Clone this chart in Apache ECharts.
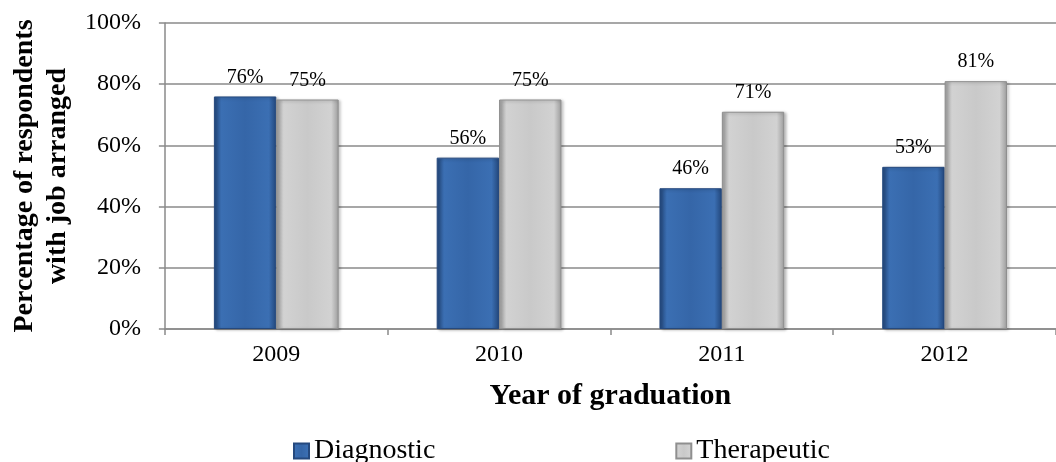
<!DOCTYPE html>
<html>
<head>
<meta charset="utf-8">
<script src="https://cdn.jsdelivr.net/npm/echarts@6/dist/echarts.min.js"></script>
<style>
  html, body { margin: 0; padding: 0; background: #fff; overflow: hidden; }
  #chart { width: 1056px; height: 462px; }
</style>
</head>
<body>
<div id="chart"></div>
<script>
const years = ['2009', '2010', '2011', '2012']
const diagnostic = [76, 56, 46, 53]
const therapeutic = [75, 75, 71, 81]
const yTicks = [0, 20, 40, 60, 80, 100]

const font = '"Liberation Serif", "Times New Roman", serif'

// fake the excel bevel with a side-to-side gradient
const bevel = (edge, mid, dark) => ({
  type: 'linear', x: 0, y: 0, x2: 1, y2: 0,
  colorStops: [
    { offset: 0, color: dark },
    { offset: 0.12, color: edge },
    { offset: 0.5, color: mid },
    { offset: 0.88, color: edge },
    { offset: 1, color: dark },
  ]
})

const valueLabel = {
  show: true, position: 'top', distance: 9,
  fontFamily: font, fontSize: 20, color: '#000',
  formatter: (p) => p.value + '%',
}

const chart = echarts.init(document.getElementById('chart'))
chart.setOption({
  animation: false,
  textStyle: { fontFamily: font },
  // plot runs a little past the right edge in the original crop
  grid: { left: 159, right: -7, top: 23, bottom: 133 },
  legend: {
    top: 432,
    left: 288,
    itemGap: 240,
    itemWidth: 15,
    itemHeight: 15,
    icon: 'rect',
    textStyle: { fontFamily: font, fontSize: 28, color: '#000' },
    data: ['Diagnostic', 'Therapeutic'],
  },
  xAxis: {
    type: 'category',
    data: years,
    name: 'Year of graduation',
    nameLocation: 'middle',
    nameGap: 52,
    nameTextStyle: { fontFamily: font, fontSize: 30, fontWeight: 'bold', color: '#000' },
    axisLine: { lineStyle: { color: '#8a8a8a', width: 1.5 } },
    axisTick: { show: true, length: 6, lineStyle: { color: '#8a8a8a', width: 1.5 } },
    axisLabel: { fontFamily: font, fontSize: 24, color: '#000', margin: 14 },
  },
  yAxis: {
    type: 'value',
    min: yTicks[0],
    max: yTicks[yTicks.length - 1],
    interval: 20,
    name: 'Percentage of respondents\nwith job arranged',
    nameLocation: 'middle',
    nameGap: 88,
    nameTextStyle: { fontFamily: font, fontSize: 28, fontWeight: 'bold', color: '#000', lineHeight: 33 },
    axisLine: { show: true, lineStyle: { color: '#8a8a8a', width: 1.5 } },
    axisTick: { show: true, length: 6, lineStyle: { color: '#8a8a8a', width: 1.5 } },
    axisLabel: { fontFamily: font, fontSize: 24, color: '#000', margin: 24, formatter: '{value}%' },
    splitLine: { lineStyle: { color: '#8a8a8a', width: 1.5 } },
  },
  series: [
    {
      name: 'Diagnostic',
      type: 'bar',
      data: diagnostic,
      barGap: '0%',
      barCategoryGap: '44%',
      itemStyle: {
        color: bevel('#3b6fb3', '#3566a8', '#22467a'),
        borderColor: '#25497e',
        borderWidth: 1,
        shadowColor: 'rgba(0,0,0,0.25)',
        shadowBlur: 3,
        shadowOffsetX: 2,
        shadowOffsetY: 1,
      },
      label: valueLabel,
    },
    {
      name: 'Therapeutic',
      type: 'bar',
      data: therapeutic,
      itemStyle: {
        color: bevel('#d2d2d2', '#c9c9c9', '#9c9c9c'),
        borderColor: '#8f8f8f',
        borderWidth: 1,
        shadowColor: 'rgba(0,0,0,0.25)',
        shadowBlur: 3,
        shadowOffsetX: 2,
        shadowOffsetY: 1,
      },
      label: valueLabel,
    },
  ],
})
</script>
</body>
</html>
